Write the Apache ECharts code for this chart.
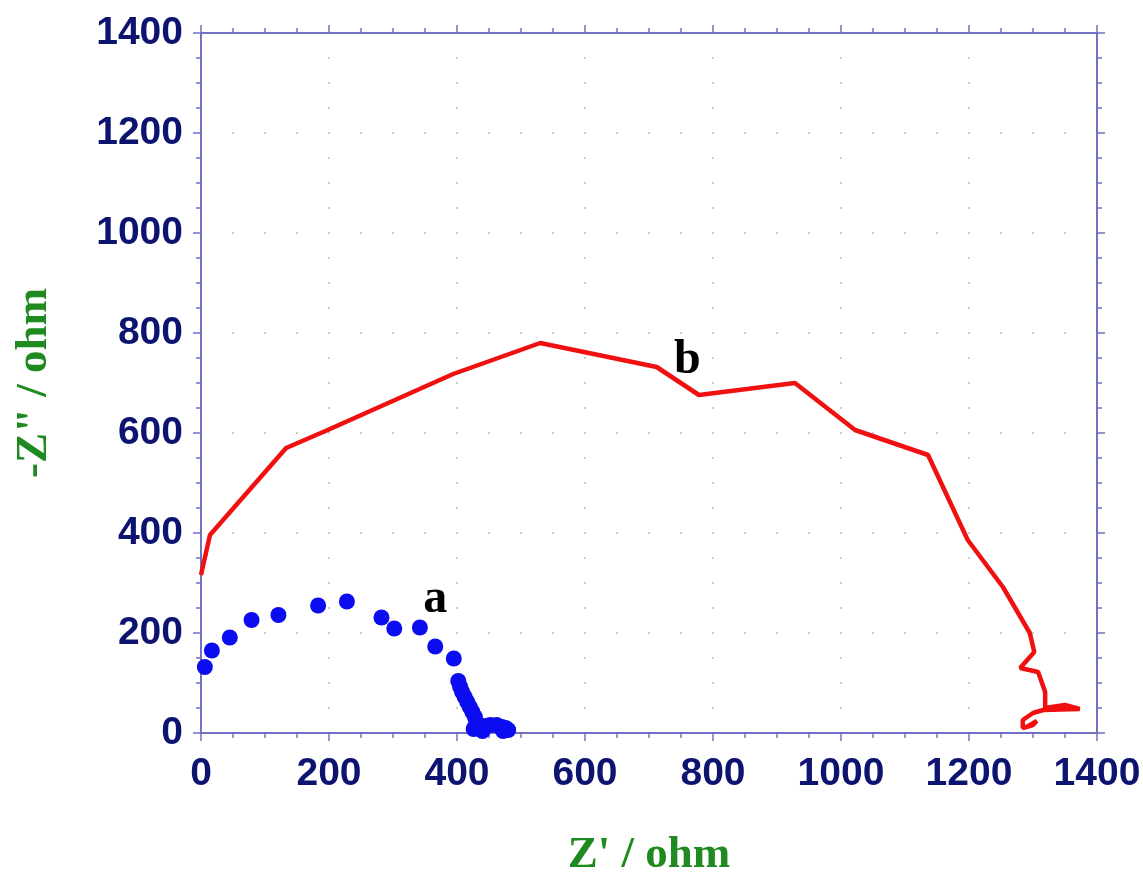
<!DOCTYPE html>
<html>
<head>
<meta charset="utf-8">
<script src="https://cdn.jsdelivr.net/npm/echarts@6/dist/echarts.min.js"></script>
<style>
  html, body { margin: 0; padding: 0; background: #fff; }
  #chart { width: 1143px; height: 878px; }
</style>
</head>
<body>
<div id="chart"></div>
<script>
// tick labels
var xTicks = [0, 200, 400, 600, 800, 1000, 1200, 1400];
var yTicks = [0, 200, 400, 600, 800, 1000, 1200, 1400];

// a : blue points (Z', -Z'')
var seriesA = [
    [6,132],[17,165],[45,191],[79,226],[121,236],[183,255],[228,263],
    [282,231],[302,209],[342,211],[366,173],[395,149],[402,104],[405,92],
    [408,82],[412,72],[416,62],[420,52],[424,42],[428,32],[430,22],[432,14],
    [426,8],[436,10],[444,14],[452,16],[462,16],[470,12],[476,10],[480,6],
    [472,4],[440,4]
];

// b : red line (Z', -Z'')
var seriesB = [
    [0,316],[14,396],[133,570],[198,606],[394,718],[530,780],[712,732],
    [778,676],[928,700],[1022,606],[1136,556],[1198,386],[1253,292],
    [1295,200],[1302,162],[1280,130],[1308,122],[1319,82],[1319,50],
    [1350,56],[1373,48],[1316,46],[1300,40],[1284,26],[1284,10],
    [1300,16],[1306,24],[1290,12]
];

// curve labels
var curveNames  = ['a', 'b'];
var curveLabelX = [366, 760];
var curveLabelY = [266, 744];

var axisColor = '#7272c4';
var labelColor = '#0c1470';
var nameColor = '#1f8a1f';

function makeAxis(type, pos, showLabel, ticks, dash) {
    var ax = {
        type: 'value',
        position: pos,
        min: ticks[0],
        max: ticks[ticks.length - 1],
        interval: ticks[1] - ticks[0],
        axisLine: { show: true, onZero: false, lineStyle: { color: axisColor, width: 2 } },
        axisTick: { show: true, inside: false, length: 8, lineStyle: { color: axisColor, width: 1.5 } },
        minorTick: { show: true, splitNumber: 4, length: 5, lineStyle: { color: axisColor, width: 1.5 } },
        axisLabel: {
            show: showLabel,
            color: labelColor,
            fontFamily: 'Liberation Sans',
            fontWeight: 'bold',
            fontSize: 39,
            margin: type == 'x' ? 22 : 18,
            formatter: function (v) { return String(v); }
        },
        splitLine: { show: false }
    };
    if (showLabel) {
        ax.splitLine = {
            show: true,
            lineStyle: { color: '#cccccc', width: 2, type: dash, dashOffset: 1 }
        };
    }
    return ax;
}

var chart = echarts.init(document.getElementById('chart'), null, { renderer: 'canvas' });

var xBottom = makeAxis('x', 'bottom', true, xTicks, [2, 23]);
xBottom.name = "Z' / ohm";
xBottom.nameLocation = 'middle';
xBottom.nameGap = 100;
xBottom.nameTextStyle = { color: nameColor, fontFamily: 'Liberation Serif', fontWeight: 'bold', fontSize: 45 };

var yLeft = makeAxis('y', 'left', true, yTicks, [2, 30]);
yLeft.name = '-Z" / ohm';
yLeft.nameLocation = 'middle';
yLeft.nameGap = 144;
yLeft.nameTextStyle = { color: nameColor, fontFamily: 'Liberation Serif', fontWeight: 'bold', fontSize: 45 };

var option = {
    backgroundColor: '#ffffff',
    animation: false,
    grid: { left: 201, top: 33, width: 896, height: 700, containLabel: false, outerBoundsMode: 'none' },
    xAxis: [xBottom, makeAxis('x', 'top', false, xTicks)],
    yAxis: [yLeft, makeAxis('y', 'right', false, yTicks)],
    series: [
        {
            name: 'b',
            type: 'line',
            data: seriesB,
            showSymbol: false,
            lineStyle: { color: '#f01010', width: 4.5 },
            z: 3
        },
        {
            name: 'a',
            type: 'scatter',
            data: seriesA,
            symbol: 'circle',
            symbolSize: 16,
            itemStyle: { color: '#0c0cf0', opacity: 1 },
            z: 4
        },
        {
            name: 'labels',
            type: 'scatter',
            symbolSize: 0,
            itemStyle: { opacity: 1 },
            data: curveNames.map(function (n, i) {
                return { name: n, value: [curveLabelX[i], curveLabelY[i]] };
            }),
            label: {
                show: true,
                position: 'inside',
                formatter: '{b}',
                color: '#000000',
                opacity: 1,
                fontFamily: 'Liberation Serif',
                fontWeight: 'bold',
                fontSize: 48
            },
            z: 5
        }
    ]
};
chart.setOption(option);
</script>
</body>
</html>
